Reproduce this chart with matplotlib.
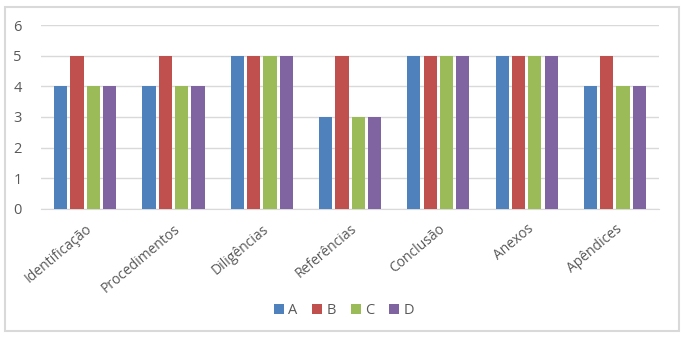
import numpy as np
import matplotlib
matplotlib.use("Agg")
import matplotlib.pyplot as plt
from matplotlib.patches import Rectangle

plt.rcParams['font.family'] = ['Open Sans', 'DejaVu Sans']

# ─── Dados ────────────────────────────────────────────────────────────────────
categorias = ["Identificação", "Procedimentos", "Diligências", "Referências",
              "Conclusão", "Anexos", "Apêndices"]
series = ["A", "B", "C", "D"]
valores_A = [4, 4, 5, 3, 5, 5, 4]
valores_B = [5, 5, 5, 5, 5, 5, 5]
valores_C = [4, 4, 5, 3, 5, 5, 4]
valores_D = [4, 4, 5, 3, 5, 5, 4]
yticks = [0, 1, 2, 3, 4, 5, 6]

cores = ["#4F81BD", "#C0504D", "#9BBB59", "#8064A2"]
cinza_txt = "#595959"
cinza_grade = "#D9D9D9"

# ─── Figura ───────────────────────────────────────────────────────────────────
fig = plt.figure(figsize=(6.88, 3.38), dpi=100)
ax = fig.add_axes([0.0596, 0.3817, 0.8984, 0.5443])

x = np.arange(len(categorias))
largura = 0.15
passo = 0.185
for i, (nome, vals) in enumerate(zip(series, [valores_A, valores_B, valores_C, valores_D])):
    ax.bar(x + (i - 1.5) * passo, vals, width=largura, color=cores[i],
           label=nome, zorder=3)

ax.set_xlim(-0.5, len(categorias) - 0.5)
ax.set_ylim(0, 6)
ax.set_yticks(yticks)
ax.yaxis.grid(True, color=cinza_grade, linewidth=1, zorder=0)
for lado in ["top", "right", "left"]:
    ax.spines[lado].set_visible(False)
ax.spines["bottom"].set_color(cinza_grade)
ax.tick_params(axis="both", length=0, colors=cinza_txt, labelsize=10.5)
ax.tick_params(axis="y", pad=14)
ax.set_xticks(x)
ax.set_xticklabels(categorias, rotation=40, ha="right", rotation_mode="anchor",
                   fontsize=10)
ax.tick_params(axis="x", pad=9)

leg = fig.legend(loc="center", bbox_to_anchor=(0.5, 0.08), ncol=4, frameon=False,
                 fontsize=10.5, handlelength=0.7, handleheight=0.7,
                 handletextpad=0.3, columnspacing=1.0, labelcolor=cinza_txt)

# moldura externa
fig.patches.append(Rectangle((5 / 688, 7 / 338), 674 / 688, 324 / 338,
                             transform=fig.transFigure, fill=False,
                             edgecolor=cinza_grade, linewidth=1.5))

fig.savefig("out.png", dpi=100)
